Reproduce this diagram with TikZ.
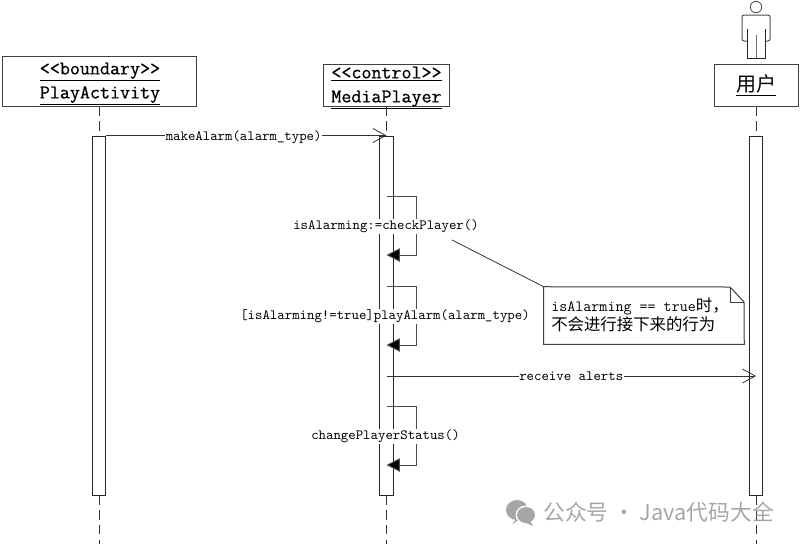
\documentclass[tikz,border=0pt]{standalone}
\usepackage{fontspec}
\setmainfont{Latin Modern Mono}[Ligatures=NoCommon]
\newfontfamily\titlefont{Latin Modern Mono}[Ligatures=NoCommon, FakeBold=0.7]
\newfontfamily\cjk{Noto Sans CJK SC}
\usetikzlibrary{arrows.meta}
\tikzset{
	head/.style={draw=black!75, line width=0.75pt, fill=white, inner sep=0pt},
	title/.style={inner sep=0pt, align=center, font=\titlefont\fontsize{14.6}{18}\selectfont},
	bar/.style={draw=black!85, line width=0.75pt, fill=white, inner sep=0pt, minimum width=10pt, minimum height=269.25pt},
	life/.style={draw=black!80, line width=0.75pt, dash pattern=on 7pt off 4pt},
	msg/.style={draw=black!80, line width=0.75pt, -{Straight Barb[length=9.5pt, width=10.5pt, line width=0.6pt]}},
	selfmsg/.style={draw=black!70, line width=0.75pt, -{Triangle[length=10pt, width=10pt, fill=black]}},
	lbl/.style={fill=white, inner sep=0.6pt, font=\fontsize{10.6}{11}\selectfont},
}
\begin{document}
\begin{tikzpicture}[x=0.75pt, y=-0.75pt]
		\useasboundingbox (0,0) rectangle (800,544);
		\node[head, minimum width=146pt, minimum height=37.5pt] (activity) at (99.5,81){};
		\node[head, minimum width=94.5pt, minimum height=31.5pt] (player) at (386,85){};
		\node[head, minimum width=63pt, minimum height=31.5pt] (user) at (756,85){};
		\node[title] (activityname) at (100,84){\underline{{<}{<}boundary{>}{>}}\\\underline{PlayActivity}};
		\node[title] (playername) at (386.5,88){\underline{{<}{<}control{>}{>}}\\\underline{MediaPlayer}};
		\node[title, font=\fontsize{15}{18}\selectfont] (username) at (756,85){\underline{\cjk 用户}};
		\node[bar] (activitybar) at (99,315.5){};
		\node[bar] (playerbar) at (386.5,315.5){};
		\node[bar] (userbar) at (756,315.5){};
		\coordinate (activityend) at (99,544);
		\coordinate (playerend) at (386.5,544);
		\coordinate (userend) at (756,544);
		\draw[life] (activity.south -| activitybar) -- (activitybar.north);
		\draw[life] (activitybar.south) -- (activityend);
		\draw[life] (player.south -| playerbar) -- (playerbar.north);
		\draw[life] (playerbar.south) -- (playerend);
		\draw[life] (user.south) -- (userbar.north);
		\draw[life] (userbar.south) -- (userend);
		\draw[msg] (activitybar.north east) -- (playerbar.north) node[midway, lbl, yshift=-1pt, xshift=-2pt](makealarm){makeAlarm(alarm\_type)};
		\coordinate (alertfrom) at (386.5,376);
		\coordinate (alertto) at (756,376);
		\draw[msg] (alertfrom) -- (alertto) node[midway, lbl](alerts){receive alerts};
		\coordinate (checka) at (386.5,196);
		\coordinate (checkb) at (386.5,255);
		\draw[selfmsg] (checka) -- ++(30,0) |- (checkb);
		\coordinate (playa) at (386.5,286);
		\coordinate (playb) at (386.5,345);
		\draw[selfmsg] (playa) -- ++(30,0) |- (playb);
		\coordinate (statusa) at (386.5,406);
		\coordinate (statusb) at (386.5,465);
		\draw[selfmsg] (statusa) -- ++(30,0) |- (statusb);
		\node[lbl] (check) at (386,226.5){isAlarming:=checkPlayer()};
		\node[lbl] (play) at (385,316.5){[isAlarming!=true]playAlarm(alarm\_type)};
		\node[lbl] (status) at (385.5,436.5){changePlayerStatus()};
		\node[inner sep=0pt, minimum width=150pt, minimum height=42.75pt] (note) at (644,315.5){};
		\coordinate (notefold) at (730,287);
		\coordinate (notecorner) at (744,302);
		\coordinate (leader) at (452,240);
		\draw[draw=black!75, line width=0.75pt, fill=white] (note.north west) -- (notefold) -- (notecorner) -- (note.south east) -- (note.south west) -- cycle;
		\draw[draw=black!75, line width=0.6pt] (notefold) |- (notecorner);
		\draw[draw=black!80, line width=0.6pt] (leader) -- (note.north west);
		\node[anchor=west, inner sep=0pt, align=left, font=\fontsize{11.7}{14.4}\selectfont] (notetext) at (551,315){isAlarming == true{\cjk\fontsize{12.3}{14.4}\selectfont 时，}\\{\cjk\fontsize{12.3}{14.4}\selectfont 不会进行接下来的行为}};
		\draw[draw=black!70, line width=0.6pt] (756,7) circle[radius=5.7];
		\draw[draw=black!70, line width=0.75pt, rounded corners=1.5pt] (747,41) -- (742,41) -- (742,15) -- (770,15) -- (770,41) -- (765,41);
		\draw[draw=black!85, line width=0.75pt] (747,29) -- (747,58) -- (765,58) -- (765,29);
		\draw[draw=black!55, line width=0.75pt] (756,35) -- (756,58);
		\fill[black!35] (517,510) ellipse[x radius=11, y radius=10];
		\fill[black!35] (517,518) -- (512,524) -- (523,518) -- cycle;
		\fill[white] (526,515) ellipse[x radius=10.5, y radius=9.5];
		\fill[black!35] (526,515) ellipse[x radius=9, y radius=8];
		\fill[black!35] (530,521) -- (533,526) -- (524,522) -- cycle;
		\node[anchor=west, inner sep=0pt, text=black!35, font=\cjk\fontsize{16.3}{18}\selectfont] (mark) at (543,512){公众号 · Java代码大全};
		\end{tikzpicture}
\end{document}
